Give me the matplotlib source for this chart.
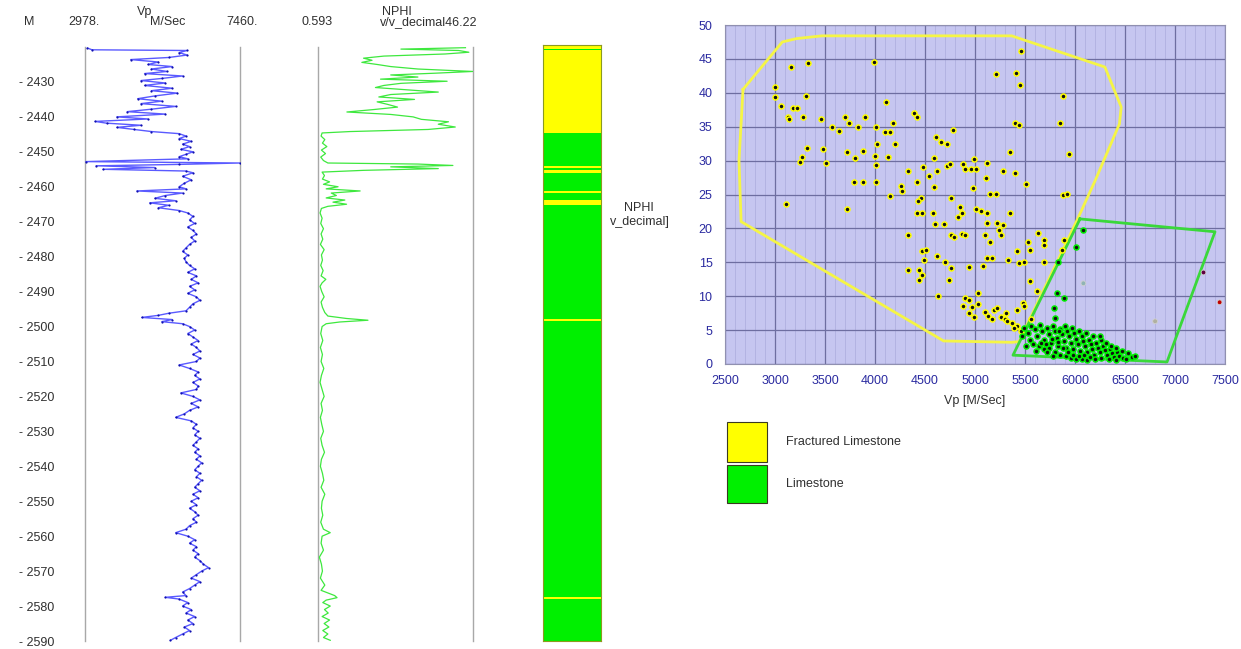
import matplotlib
matplotlib.use('Agg')
import matplotlib.pyplot as plt
from matplotlib.patches import Rectangle
import numpy as np

plt.rcParams['font.family'] = ['Liberation Sans', 'DejaVu Sans']

# ---- well log curves (depth in m) ----
vp_depth = [2420.3, 2420.8, 2421.0, 2421.6, 2422.3, 2423.0, 2423.6, 2424.3, 2425.0, 2425.6,
            2426.3, 2427.0, 2427.6, 2428.3, 2429.0, 2429.6, 2430.3, 2431.0, 2431.8, 2432.5,
            2433.2, 2434.0, 2434.8, 2435.5, 2436.2, 2437.0, 2437.8, 2438.5, 2439.2, 2440.0,
            2440.6, 2441.3, 2441.8, 2442.4, 2443.0, 2443.6, 2444.2, 2444.8, 2445.5, 2446.2,
            2447.0, 2447.8, 2448.5, 2449.3, 2450.0, 2450.7, 2451.4, 2452.0, 2452.8, 2453.2,
            2453.6, 2454.0, 2454.5, 2455.0, 2455.5, 2456.0, 2457.0, 2458.0, 2459.0, 2460.0,
            2460.6, 2461.2, 2461.8, 2462.5, 2463.3, 2464.0, 2464.6, 2465.3, 2466.0, 2466.8,
            2467.5, 2468.5, 2469.5, 2470.5, 2471.5, 2472.5, 2473.5, 2474.5, 2475.5, 2476.5,
            2477.5, 2478.5, 2479.5, 2480.5, 2481.5, 2482.5, 2483.5, 2484.5, 2485.5, 2486.5,
            2487.5, 2488.5, 2489.5, 2490.5, 2491.5, 2492.5, 2493.5, 2494.5, 2495.5, 2496.2,
            2496.8, 2497.4, 2498.0, 2498.6, 2499.2, 2500.0, 2501.0, 2502.0, 2503.0, 2504.0,
            2505.0, 2506.0, 2507.0, 2508.0, 2509.0, 2510.0, 2511.0, 2512.0, 2513.0, 2514.0,
            2515.0, 2516.0, 2517.0, 2518.0, 2519.0, 2520.0, 2521.0, 2522.0, 2523.0, 2524.0,
            2525.0, 2526.0, 2527.0, 2528.0, 2529.0, 2530.0, 2531.0, 2532.0, 2533.0, 2534.0,
            2535.0, 2536.0, 2537.0, 2538.0, 2539.0, 2540.0, 2541.0, 2542.0, 2543.0, 2544.0,
            2545.0, 2546.0, 2547.0, 2548.0, 2549.0, 2550.0, 2551.0, 2552.0, 2553.0, 2554.0,
            2555.0, 2556.0, 2557.0, 2558.0, 2559.0, 2560.0, 2561.0, 2562.0, 2563.0, 2564.0,
            2565.0, 2566.0, 2567.0, 2568.0, 2569.0, 2570.0, 2571.0, 2572.0, 2573.0, 2574.0,
            2575.0, 2576.0, 2577.0, 2577.5, 2578.0, 2579.0, 2580.0, 2581.0, 2582.0, 2583.0,
            2584.0, 2585.0, 2586.0, 2587.0, 2588.0, 2589.0, 2589.8]
vp = [3050, 3180, 5930, 5700, 5930, 5400, 4300, 5100, 4800, 5500,
      4900, 5350, 4700, 5800, 5200, 4600, 5300, 4700, 5500, 4900,
      5650, 5000, 4500, 5200, 4600, 5600, 4900, 4200, 5300, 3900,
      4800, 3270, 3600, 4600, 3900, 4400, 4900, 5700, 5900, 5700,
      6050, 5800, 6000, 5750, 6100, 5900, 5700, 5950, 3000, 7460,
      5700, 3300, 5000, 3500, 5900, 6100, 5800, 6050, 5850, 5700,
      5900, 4480, 5800, 5300, 5000, 5600, 4850, 5400, 5100, 5700,
      5950, 6100, 6000, 6150, 5950, 6100, 6200, 6050, 6150, 6000,
      5900, 5800, 5950, 5850, 5900, 6000, 6150, 5950, 6200, 6050,
      6250, 6000, 6150, 5950, 6200, 6300, 6100, 6000, 5900, 5400,
      5100, 4620, 5500, 5200, 5800, 6000, 6150, 5950, 6100, 6250,
      6050, 6200, 6300, 6100, 6300, 6200, 5700, 6000, 6250, 6150,
      6300, 6100, 6250, 6200, 5750, 6100, 6300, 6050, 6250, 6000,
      5850, 5600, 6050, 6200, 6100, 6250, 6150, 6300, 6200, 6100,
      6250, 6150, 6300, 6200, 6350, 6250, 6150, 6300, 6200, 6350,
      6250, 6150, 6300, 6100, 6250, 6050, 6200, 6000, 6150, 6250,
      6100, 6200, 6000, 5900, 5600, 5950, 6150, 6000, 6200, 6100,
      6250, 6150, 6300, 6400, 6550, 6350, 6200, 6050, 6300, 6150,
      6000, 5800, 5900, 5300, 5700, 5950, 5800, 6050, 5900, 6150,
      5950, 6100, 5850, 6000, 5800, 5600, 5450]

nphi_depth = [2420.2, 2420.6, 2421.0, 2421.5, 2422.0, 2422.6, 2423.2, 2423.8, 2424.4, 2425.0,
              2425.6, 2426.3, 2427.0, 2427.5, 2428.0, 2428.6, 2429.2, 2429.8, 2430.4, 2431.0,
              2431.6, 2432.2, 2432.9, 2433.6, 2434.3, 2435.0, 2435.7, 2436.4, 2437.2, 2437.9,
              2438.6, 2439.3, 2440.0, 2440.7, 2441.4, 2442.1, 2442.9, 2443.6, 2444.2, 2444.6,
              2445.5, 2446.5, 2447.5, 2448.5, 2449.5, 2450.5, 2451.5, 2452.5, 2453.2, 2453.5,
              2453.9, 2454.3, 2454.8, 2455.3, 2455.8, 2456.8, 2457.8, 2458.6, 2459.3, 2460.0,
              2460.6, 2461.2, 2461.8, 2462.5, 2463.2, 2463.8, 2464.4, 2465.0, 2465.6, 2466.2,
              2467.5, 2469.0, 2470.5, 2472.0, 2473.5, 2475.0, 2476.5, 2478.0, 2479.5, 2481.0,
              2482.5, 2484.0, 2485.5, 2486.5, 2487.5, 2488.5, 2490.0, 2491.5, 2493.0, 2494.5,
              2496.0, 2497.0, 2497.7, 2498.2, 2498.7, 2499.2, 2500.0, 2502.0, 2504.0, 2506.0,
              2508.0, 2510.0, 2512.0, 2514.0, 2516.0, 2518.0, 2520.0, 2522.0, 2524.0, 2526.0,
              2528.0, 2530.0, 2532.0, 2534.0, 2536.0, 2538.0, 2540.0, 2542.0, 2544.0, 2546.0,
              2548.0, 2550.0, 2552.0, 2554.0, 2556.0, 2558.0, 2559.0, 2560.0, 2562.0, 2564.0,
              2566.0, 2568.0, 2570.0, 2572.0, 2574.0, 2575.5, 2577.0, 2577.6, 2578.3, 2579.0,
              2580.0, 2581.0, 2582.0, 2583.0, 2584.0, 2585.0, 2586.0, 2587.0, 2588.0, 2589.0,
              2589.8]
nphi = [44.0, 25.0, 42.0, 45.0, 38.0, 20.0, 14.0, 16.5, 13.5, 18.0,
        22.0, 30.0, 46.2, 35.0, 22.0, 30.0, 19.0, 38.6, 25.0, 20.0,
        17.5, 26.0, 36.0, 22.0, 18.5, 29.0, 18.0, 21.0, 24.0, 17.0,
        9.1, 22.0, 28.6, 31.0, 39.0, 36.0, 41.0, 33.0, 10.0, 1.8,
        1.5, 2.6, 1.9, 3.2, 1.6, 2.8, 1.4, 2.2, 3.5, 30.0,
        40.3, 22.0, 36.0, 14.0, 1.8, 2.5, 1.9, 4.0, 2.2, 6.5,
        3.0, 13.0, 4.5, 6.0, 3.0, 8.5, 5.0, 9.0, 3.5, 1.6,
        1.2, 1.8, 1.4, 2.2, 1.5, 2.0, 1.3, 2.4, 1.6, 1.9,
        1.4, 2.1, 1.5, 2.9, 1.8, 1.2, 1.7, 2.4, 1.5, 1.9,
        2.6, 3.5, 9.0, 15.3, 7.0, 3.0, 1.8, 1.4, 2.0, 1.3,
        1.9, 1.5, 2.3, 1.6, 1.2, 1.8, 2.4, 1.5, 1.9, 1.3,
        1.7, 2.2, 1.4, 1.8, 2.5, 1.6, 1.3, 1.9, 2.3, 1.5,
        2.6, 1.8, 1.6, 2.0, 1.4, 2.2, 4.2, 1.8, 1.5, 2.2,
        1.0, 1.6, 1.9, 1.3, 2.6, 1.5, 5.5, 6.2, 3.0, 2.0,
        4.2, 2.5, 3.6, 1.8, 4.0, 2.4, 3.8, 2.0, 3.5, 2.2,
        4.2]

# ---- lithology column ----
litho_top = [2419.4, 2420.5, 2420.8, 2444.6, 2453.9, 2454.5, 2455.3, 2456.1, 2461.3, 2461.9,
             2463.9, 2465.3, 2497.9, 2498.5, 2577.5, 2578.0]
litho_base = [2420.5, 2420.8, 2444.6, 2453.9, 2454.5, 2455.3, 2456.1, 2461.3, 2461.9, 2463.9,
              2465.3, 2497.9, 2498.5, 2577.5, 2578.0, 2590.0]
litho_class = ['F', 'L', 'F', 'L', 'F', 'L', 'F', 'L', 'F', 'L',
               'F', 'L', 'F', 'L', 'F', 'L']

# ---- crossplot: Vp vs NPHI ----
frac_vp = [2995, 2995, 3056, 3163, 3331, 3181, 3217, 3127, 3138, 3281, 3306, 3460, 3568, 3640,
           3736, 3701, 3898, 3987, 4106, 4012, 4095, 4149, 4184, 4202, 4023, 4131, 3998, 4012,
           3880, 3797, 3324, 3271, 3245, 3475, 3511, 4392, 4417, 4607, 4661, 4722, 4586, 4478,
           4328, 4417, 4536, 4622, 4722, 4751, 4883, 4901, 4955, 5009, 4991, 5116, 5278, 5109,
           5152, 5206, 4980, 4586, 4758, 4256, 4274, 4149, 3790, 3880, 4464, 4428, 5213, 5410,
           5446, 5457, 5403, 5439, 5349, 5403, 5511, 5876, 5851, 5941, 5876, 5923, 3719, 3826,
           4776, 4005, 3719, 3109, 4417, 4471, 4579, 4597, 4686, 4848, 4865, 4830, 5009, 5063,
           5124, 5124, 5217, 5242, 5278, 5260, 5152, 5349, 4328, 4758, 4794, 4865, 4901, 5098,
           4471, 4507, 4489, 4328, 4435, 4471, 4435, 4615, 4704, 4758, 4740, 4937, 5081, 5116,
           5170, 5331, 5421, 5439, 5528, 5546, 5493, 5546, 5618, 5690, 5690, 5690, 5629, 4633,
           4901, 4937, 5027, 4883, 4973, 5027, 4937, 4991, 5098, 5134, 5188, 5224, 5170, 5260,
           5296, 5324, 5367, 5421, 5457, 5385, 5475, 5493, 5421, 5313, 5564, 5869, 5887]
frac_nphi = [40.9, 39.4, 38.0, 43.8, 44.4, 37.7, 37.7, 36.5, 36.1, 36.4, 39.6, 36.2, 35.0, 34.4,
             35.5, 36.5, 36.4, 44.6, 38.6, 34.9, 34.2, 34.2, 35.6, 32.5, 32.5, 30.5, 30.7, 29.4,
             31.4, 30.4, 31.9, 30.5, 29.8, 31.7, 29.7, 37.0, 36.5, 33.5, 32.8, 32.5, 30.4, 29.1,
             28.5, 26.9, 27.7, 28.5, 29.2, 29.5, 29.5, 28.7, 28.7, 28.7, 30.2, 29.7, 28.4, 27.5,
             25.1, 25.1, 26.0, 26.1, 24.5, 26.2, 25.5, 24.8, 26.8, 26.8, 24.5, 24.1, 42.8, 42.9,
             41.2, 46.2, 35.5, 35.3, 31.2, 28.2, 26.6, 39.5, 35.5, 30.9, 25.0, 25.1, 31.2, 34.9,
             34.5, 26.8, 22.8, 23.6, 22.2, 22.3, 22.3, 20.6, 20.6, 23.1, 22.3, 21.7, 22.9, 22.6,
             22.3, 20.8, 20.8, 19.7, 20.5, 19.1, 18.0, 22.2, 19.0, 19.0, 18.8, 19.2, 19.0, 19.1,
             16.6, 16.8, 15.3, 13.9, 13.9, 13.1, 12.4, 15.9, 15.1, 14.1, 12.4, 14.3, 14.5, 15.6,
             15.6, 15.4, 16.6, 14.9, 18.0, 16.8, 15.1, 12.2, 10.7, 18.3, 17.5, 15.1, 19.3, 10.0,
             9.7, 9.5, 10.5, 8.5, 8.4, 8.9, 7.5, 6.9, 7.6, 7.1, 7.9, 8.3, 6.6, 6.9,
             6.6, 6.3, 6.1, 5.6, 4.8, 5.3, 9.0, 8.5, 8.0, 7.5, 6.7, 16.8, 18.3]

lime_vp = [5493, 5528, 5564, 5600, 5618, 5654, 5672, 5690, 5718, 5743, 5761, 5779, 5797, 5815,
           5833, 5851, 5869, 5887, 5905, 5923, 5941, 5959, 5976, 5994, 6012, 6030, 6048, 6066,
           6084, 6102, 6120, 6138, 6156, 6174, 6192, 6209, 6227, 6245, 6263, 6281, 6299, 6317,
           6335, 6353, 6371, 6389, 6407, 6424, 6442, 6478, 6514, 6568, 6604, 5546, 5582, 5636,
           5690, 5743, 5797, 5851, 5905, 5959, 6012, 6066, 6120, 5661, 5718, 5779, 5826, 5876,
           5933, 5984, 6041, 6091, 6148, 6199, 5468, 5511, 5611, 5708, 5769, 5840, 5898, 5969,
           6041, 6113, 6184, 6256, 6306, 6364, 6414, 6471, 6532, 6077, 6005, 5833, 5815, 5887,
           5790, 5797, 6245]
lime_nphi = [5.3, 4.6, 5.6, 5.1, 4.1, 5.7, 4.8, 3.6, 5.3, 4.4, 3.1, 5.6, 4.8, 3.9,
             2.6, 5.2, 4.4, 3.4, 2.4, 4.8, 4.1, 3.1, 2.2, 4.6, 3.7, 2.9, 1.9, 4.1,
             3.4, 2.6, 1.7, 3.6, 2.9, 2.2, 1.3, 3.1, 2.4, 1.8, 0.9, 2.6, 2.1, 1.4,
             0.8, 2.2, 1.6, 1.1, 0.6, 1.7, 1.2, 0.9, 0.7, 1.1, 1.2, 3.6, 2.9, 2.6,
             2.2, 2.4, 1.7, 1.4, 1.2, 0.9, 0.7, 0.8, 0.6, 3.1, 1.7, 1.2, 3.2, 2.3,
             1.7, 1.3, 1.2, 1.4, 1.1, 0.7, 4.1, 2.6, 1.9, 2.9, 3.7, 4.8, 5.6, 5.3,
             4.8, 4.5, 4.1, 3.6, 3.1, 2.7, 2.4, 1.9, 1.6, 19.7, 17.3, 15.1, 10.5, 9.7,
             8.3, 6.8, 4.1]

other_vp = [6084, 7285, 7446, 6801]
other_nphi = [11.9, 13.5, 9.1, 6.3]
other_colors = ['#8fb4b4', '#600040', '#c00000', '#b0b0a0']

# zone outlines on the crossplot
frac_poly_vp = [2680, 3073, 3217, 3468, 5367, 6299, 6462, 6444, 6200, 6020, 5440, 5367, 4686,
                2661, 2640, 2680]
frac_poly_nphi = [40.5, 47.5, 48.0, 48.4, 48.4, 43.8, 37.9, 35.4, 27.0, 21.2, 3.3, 3.2, 3.4,
                  21.0, 30.0, 40.5]
lime_poly_vp = [6050, 7400, 6920, 5380, 6050]
lime_poly_nphi = [21.4, 19.5, 0.3, 1.3, 21.4]

depth_ticks = list(range(2430, 2591, 10))

YELLOW = '#ffff00'
GREEN = '#00f000'

W, H = 1241, 649
fig = plt.figure(figsize=(W / 100, H / 100), dpi=100)
fig.patch.set_facecolor('white')


def box(l, t, r, b):
    return [l / W, 1 - b / H, (r - l) / W, (b - t) / H]


def px(x, y):
    return x / W, 1 - y / H


txt = dict(color='#303030', fontsize=9)

# ---- Vp track ----
ax_vp = fig.add_axes(box(85, 47, 240, 641))
ax_vp.set_xlim(2978, 7460)
ax_vp.set_ylim(2590, 2420)
for s in ax_vp.spines.values():
    s.set_visible(False)
ax_vp.set_xticks([])
ax_vp.set_yticks(depth_ticks)
ax_vp.set_yticklabels(['- %d' % d for d in depth_ticks], color='#303030', fontsize=9)
ax_vp.tick_params(axis='y', length=0, pad=22)
ax_vp.axvline(2978, color='#a8a8a8', lw=1, clip_on=False)
ax_vp.axvline(7460, color='#a8a8a8', lw=1, clip_on=False)
ax_vp.plot(vp, vp_depth, color='#5a5aff', lw=1.0)
ax_vp.plot(vp, vp_depth, 'o', ms=1.6, color='#1010b0', mew=0)

# ---- NPHI track ----
ax_np = fig.add_axes(box(318, 47, 473, 641))
ax_np.set_xlim(0.593, 46.22)
ax_np.set_ylim(2590, 2420)
ax_np.axis('off')
ax_np.axvline(0.593, color='#a8a8a8', lw=1, clip_on=False)
ax_np.axvline(46.22, color='#a8a8a8', lw=1, clip_on=False)
ax_np.plot(nphi, nphi_depth, color='#3ee83e', lw=0.9)

# track headers
fig.text(*px(145, 12), 'Vp', ha='center', va='center', **txt)
fig.text(*px(29, 22), 'M', ha='center', va='center', **txt)
fig.text(*px(68, 22), '2978.', ha='left', va='center', **txt)
fig.text(*px(168, 22), 'M/Sec', ha='center', va='center', **txt)
fig.text(*px(258, 22), '7460.', ha='right', va='center', **txt)
fig.text(*px(397, 12), 'NPHI', ha='center', va='center', **txt)
fig.text(*px(302, 22), '0.593', ha='left', va='center', **txt)
fig.text(*px(380, 22), 'v/v_decimal46.22', ha='left', va='center', **txt)

# ---- lithology column ----
ax_li = fig.add_axes(box(543, 45, 601, 641))
ax_li.set_xlim(0, 1)
ax_li.set_ylim(2590, 2419.4)
ax_li.set_xticks([])
ax_li.set_yticks([])
for top, base, c in zip(litho_top, litho_base, litho_class):
    ax_li.axhspan(top, base, color=YELLOW if c == 'F' else GREEN, lw=0)
for s in ax_li.spines.values():
    s.set_color('#8c9a20')
    s.set_linewidth(0.8)

fig.text(*px(639, 208), 'NPHI', ha='center', va='center', **txt)
fig.text(*px(640, 222), 'v_decimal]', ha='center', va='center', **txt)

# ---- crossplot ----
ax_sc = fig.add_axes(box(725, 25, 1225, 364))
ax_sc.set_facecolor('#c6c6f0')
ax_sc.set_xlim(2500, 7500)
ax_sc.set_ylim(0, 50)
ax_sc.set_xticks(np.arange(2500, 7501, 500))
ax_sc.set_yticks(np.arange(0, 51, 5))
ax_sc.set_xticks(np.arange(2500, 7501, 100), minor=True)
ax_sc.grid(which='major', color='#6e6ea0', lw=0.9)
ax_sc.grid(which='minor', axis='x', color='#acacdc', lw=0.5)
ax_sc.set_axisbelow(True)
ax_sc.tick_params(which='both', length=0, labelsize=9, labelcolor='#2a2aa0')
ax_sc.tick_params(axis='y', pad=9)
ax_sc.tick_params(axis='x', pad=8)
for s in ax_sc.spines.values():
    s.set_color('#9090b0')
    s.set_linewidth(0.8)

ax_sc.plot(frac_poly_vp, frac_poly_nphi, color='#f5f545', lw=2.0, solid_joinstyle='round')
ax_sc.plot(lime_poly_vp, lime_poly_nphi, color='#3ad83a', lw=2.0, solid_joinstyle='round')

ax_sc.scatter(frac_vp, frac_nphi, s=13, c='#111111', edgecolors=YELLOW, linewidths=1.1, zorder=3)
ax_sc.scatter(lime_vp, lime_nphi, s=13, c='#111111', edgecolors=GREEN, linewidths=1.1, zorder=3)
ax_sc.scatter(other_vp, other_nphi, s=12, c=other_colors, edgecolors='#d0d0d0', linewidths=0.6,
              zorder=3)

fig.text(*px(975, 401), 'Vp [M/Sec]', ha='center', va='center', **txt)

# ---- legend ----
for (y0, y1), col, label in [((422, 462), YELLOW, 'Fractured Limestone'),
                             ((465, 503), GREEN, 'Limestone')]:
    x0, y_b = px(727, y1)
    fig.add_artist(Rectangle((x0, y_b), 40 / W, (y1 - y0) / H, transform=fig.transFigure,
                             facecolor=col, edgecolor='#3a3a20', lw=0.8))
    fig.text(*px(786, (y0 + y1) / 2), label, ha='left', va='center', **txt)

fig.savefig('out.png', dpi=100)
